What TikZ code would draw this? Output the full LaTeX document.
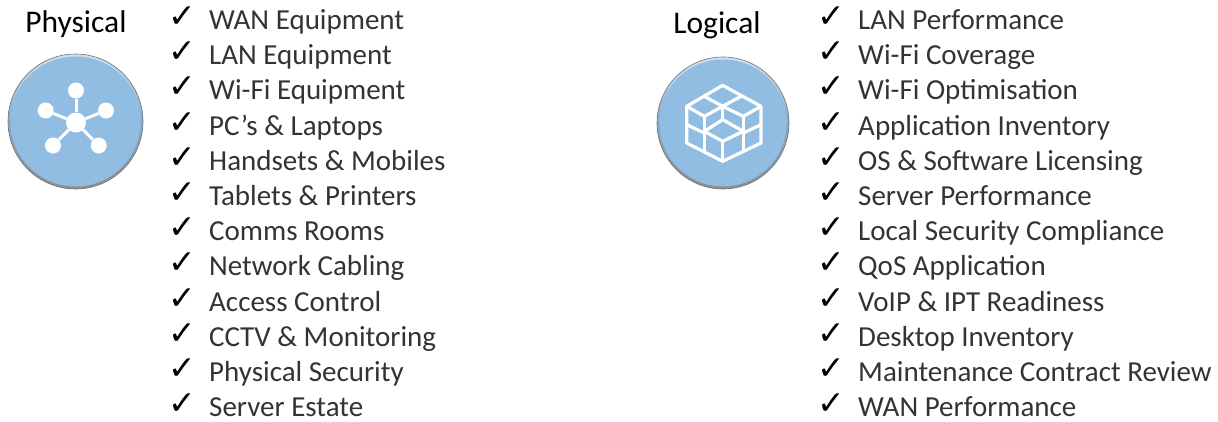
\documentclass[tikz,border=0pt]{standalone}
\usepackage{fontspec}
\setmainfont{Carlito}
\newfontfamily\chk{DejaVu Sans}
\definecolor{badgeblue}{HTML}{92BDE2}
\tikzset{
  x=1pt,y=-1pt,
  item/.style={anchor=base west,inner sep=0pt,font=\fontsize{29}{32}\selectfont,text=black!80},
  tick/.style={anchor=base,inner sep=0pt,font=\chk\fontsize{33}{36}\selectfont},
  ttl/.style={anchor=base,inner sep=0pt,font=\fontsize{31.5}{34}\selectfont},
  rim/.style={circle,inner sep=0pt,draw=black!55,line width=.6pt,top color=badgeblue!45,bottom color=black!45,middle color=badgeblue!90!black},
  badge/.style={circle,inner sep=0pt,fill=badgeblue},
  hub/.style={circle,fill=white,inner sep=0pt,minimum size=20pt},
  leaf/.style={circle,fill=white,inner sep=0pt,minimum size=16pt},
  spoke/.style={draw=white,line width=3pt},
  cube/.style={draw=white,line width=3.2pt,line join=round}
}
\begin{document}
\begin{tikzpicture}
\useasboundingbox (0,0) rectangle (1218,421);
\node[ttl] (t1) at (76,32) {Physical};
\node[ttl] (t2) at (717,33) {Logical};
\node[rim,minimum size=135pt] (r1) at (75.5,121.5) {};
\node[badge,minimum size=130pt] (b1) at (75.5,121.5) {};
\node[rim,minimum size=132pt] (r2) at (723,123) {};
\node[badge,minimum size=127pt] (b2) at (723,123) {};
\node[hub] (h) at (76,122.5) {};
\node[leaf] (l1) at (76,90.5) {};
\node[leaf] (l2) at (106,110.5) {};
\node[leaf] (l3) at (45.7,110.5) {};
\node[leaf] (l4) at (53,145.5) {};
\node[leaf] (l5) at (98.7,145.5) {};
\foreach \n in {l1,l2,l3,l4,l5} \draw[spoke] (h) -- (\n);
\begin{scope}[shift={(675,78)},x=0.3333pt,y=-0.3333pt]
\draw[cube] (143,22) -- (258,85) -- (258,195) -- (143,250) -- (35,195) -- (35,85) -- cycle;
\draw[cube] (88,55) -- (143,85) -- (198,55);
\draw[cube] (35,85) -- (88,115) -- (143,85) -- (205,115) -- (258,85);
\draw[cube] (143,85) -- (143,125);
\draw[cube] (143,125) -- (205,160) -- (143,190) -- (88,160) -- cycle;
\draw[cube] (88,115) -- (88,222);
\draw[cube] (205,115) -- (205,222);
\draw[cube] (143,190) -- (143,250);
\draw[cube] (35,140) -- (88,165);
\draw[cube] (258,140) -- (205,165);
\end{scope}
\foreach \n/\y/\s in {a/20/WAN Equipment,b/55/LAN Equipment,c/90/Wi-Fi Equipment,d/126/PC’s \& Laptops,e/161/Handsets \& Mobiles,f/196/Tablets \& Printers,g/231/Comms Rooms,h/266/Network Cabling,i/302/Access Control,j/337/CCTV \& Monitoring,k/372/Physical Security,l/407/Server Estate}{
  \node[tick] (pc\n) at (182,\y+7) {✓};
  \node[item] (p\n) at (209,\y+9) {\s};
}
\foreach \n/\y/\s in {a/20/LAN Performance,b/55/Wi-Fi Coverage,c/90/Wi-Fi Optimisation,d/126/Application Inventory,e/161/OS \& Software Licensing,f/196/Server Performance,g/231/Local Security Compliance,h/266/QoS Application,i/302/VoIP \& IPT Readiness,j/337/Desktop Inventory,k/372/Maintenance Contract Review,l/407/WAN Performance}{
  \node[tick] (qc\n) at (831,\y+7) {✓};
  \node[item] (q\n) at (858,\y+9) {\s};
}
\end{tikzpicture}
\end{document}
